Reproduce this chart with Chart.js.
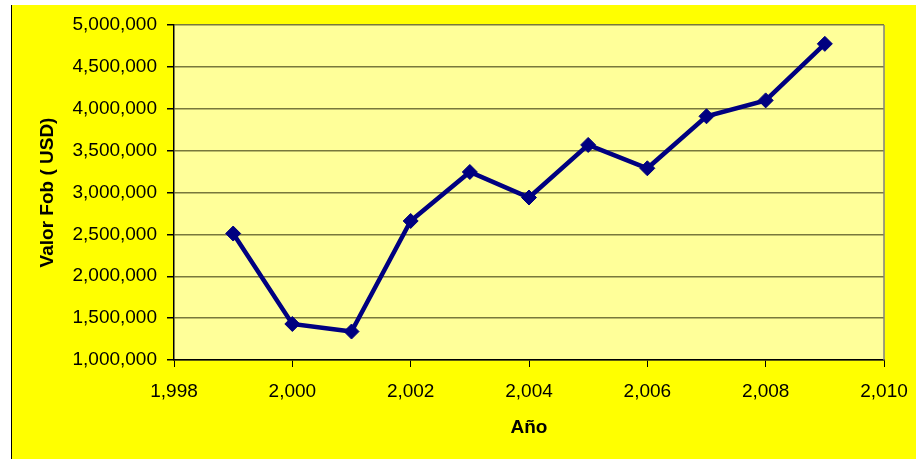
<!DOCTYPE html>
<html>
<head>
<meta charset="utf-8">
<title>Valor Fob por año</title>
<script src="https://cdn.jsdelivr.net/npm/chart.js@4/dist/chart.umd.min.js"></script>
<style>
  html, body { margin: 0; padding: 0; background: #ffffff; }
  #wrap { width: 916px; height: 459px; position: relative; }
</style>
</head>
<body>
<div id="wrap"><canvas id="c" width="916" height="459"></canvas></div>
<script>
// Exportaciones anuales (valor FOB en USD)
const years = [1999, 2000, 2001, 2002, 2003, 2004, 2005, 2006, 2007, 2008, 2009];
const fobValues = [2510000, 1430000, 1340000, 2660000, 3245000, 2940000, 3568000, 3289000, 3910000, 4100000, 4775000];

const xMin = 1998, xMax = 2010, xStep = 2;
const yMin = 1000000, yMax = 5000000, yStep = 500000;
const xTitle = 'Año';
const yTitle = 'Valor Fob ( USD)';

const fmt = v => Number(v).toLocaleString('en-US');
const FONT = 'Liberation Sans, Arial, sans-serif';

// Fondo amarillo, área de trazado y bordes
const framePlugin = {
  id: 'frame',
  beforeDraw(chart) {
    const ctx = chart.ctx;
    const a = chart.chartArea;
    ctx.save();
    ctx.fillStyle = '#ffffff';
    ctx.fillRect(0, 0, chart.width, chart.height);
    ctx.fillStyle = '#ffff00';
    ctx.fillRect(12, 5, chart.width - 12, chart.height - 5);
    ctx.fillStyle = '#000000';
    ctx.fillRect(11, 5, 1, chart.height - 5);
    ctx.fillStyle = '#ffff99';
    ctx.fillRect(a.left, a.top, a.right - a.left, a.bottom - a.top);
    ctx.restore();
  },
  afterDraw(chart) {
    const ctx = chart.ctx;
    const a = chart.chartArea;
    ctx.save();
    ctx.strokeStyle = '#808080';
    ctx.lineWidth = 1.5;
    ctx.beginPath();
    ctx.moveTo(a.right, a.top);
    ctx.lineTo(a.right, a.bottom);
    ctx.stroke();
    ctx.restore();
  }
};

new Chart(document.getElementById('c'), {
  type: 'line',
  data: {
    datasets: [{
      data: years.map((y, i) => ({ x: y, y: fobValues[i] })),
      borderColor: '#000080',
      backgroundColor: '#000080',
      borderWidth: 4.5,
      pointStyle: 'rectRot',
      pointRadius: 7.5,
      pointBorderWidth: 1,
      pointBackgroundColor: '#000080',
      pointBorderColor: '#000080',
      tension: 0,
      fill: false
    }]
  },
  options: {
    responsive: false,
    animation: false,
    devicePixelRatio: 1,
    layout: { padding: { left: 12, right: 32, top: 25, bottom: 0 } },
    plugins: { legend: { display: false }, tooltip: { enabled: false } },
    scales: {
      x: {
        type: 'linear',
        min: xMin, max: xMax,
        afterFit(scale) {
          scale.height = 99;
          // the outer padding already leaves room for the end labels
          scale.paddingLeft = 0;
          scale.paddingRight = 0;
        },
        ticks: {
          stepSize: xStep,
          padding: 13,
          color: '#000000',
          font: { family: FONT, size: 19 },
          maxRotation: 0,
          callback: v => fmt(v)
        },
        grid: { drawOnChartArea: false, drawTicks: true, tickLength: 7, tickColor: '#000000', lineWidth: 1 },
        border: { display: true, color: '#000000', width: 1.5 },
        title: {
          display: true,
          text: xTitle,
          color: '#000000',
          font: { family: FONT, size: 19, weight: 'bold' },
          padding: { top: 0, bottom: 20 }
        }
      },
      y: {
        min: yMin, max: yMax,
        afterFit(scale) { scale.width = 162; },
        ticks: {
          stepSize: yStep,
          padding: 10,
          color: '#000000',
          font: { family: FONT, size: 19 },
          callback: v => fmt(v)
        },
        grid: { color: '#78783c', lineWidth: 1.5, tickLength: 7, tickColor: '#000000' },
        border: { display: true, color: '#000000', width: 1.5 },
        title: {
          display: true,
          text: yTitle,
          color: '#000000',
          font: { family: FONT, size: 19, weight: 'bold' },
          padding: { top: 24, bottom: 0 }
        }
      }
    }
  },
  plugins: [framePlugin]
});
</script>
</body>
</html>
